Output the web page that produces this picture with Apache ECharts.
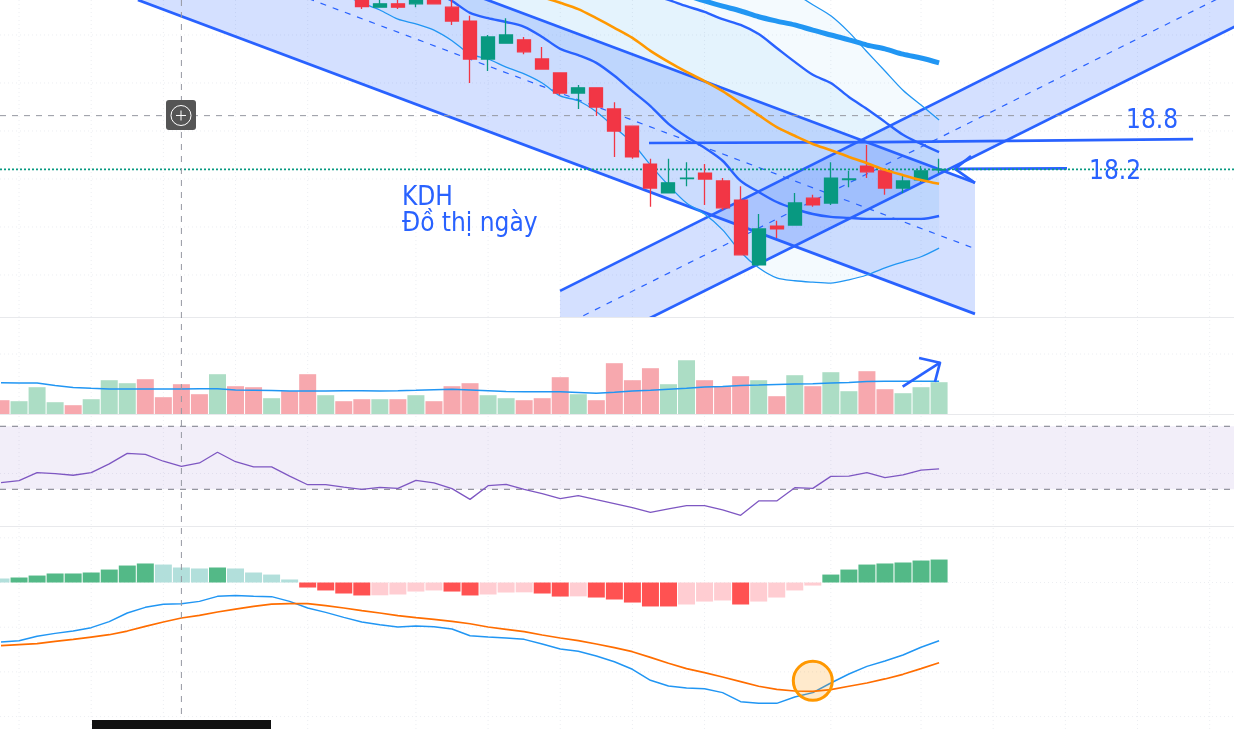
<!DOCTYPE html>
<html><head><meta charset="utf-8">
<style>html,body{margin:0;padding:0;background:#fff}#c{width:1234px;height:729px}</style>
<script src="https://cdn.jsdelivr.net/npm/echarts@6/dist/echarts.min.js"></script>
</head><body><div id="c"></div>
<script>
// ---- candles (bars 20..52; earlier ones are above the visible window)
const candleStart = 20;
const opens  = [21.77,21.58,21.65,21.65,21.75,21.58,21.29,20.50,20.83,20.90,20.50,20.21,19.79,19.90,19.46,19.10,18.31,17.71,18.01,18.12,17.96,17.56,16.21,17.02,17.04,17.60,17.50,17.99,18.27,18.17,17.81,17.98,18.19];
const closes = [21.59,21.65,21.58,21.75,21.65,21.29,20.50,20.96,21.00,20.65,20.29,19.79,19.90,19.50,19.00,18.46,17.81,17.92,18.02,18.00,17.40,16.42,16.96,16.96,17.50,17.46,18.02,18.00,18.15,17.81,17.96,18.17,18.20];
const lows   = [21.54,21.58,21.54,21.58,21.65,21.21,20.00,20.25,20.83,20.60,20.29,19.75,19.46,19.31,18.46,18.42,17.42,17.71,17.85,17.46,17.35,16.42,16.21,16.77,17.04,17.42,17.46,17.83,18.02,17.67,17.71,17.94,18.12];
const highs  = [21.79,21.75,21.75,21.79,21.75,21.75,21.40,21.00,21.35,20.96,20.75,20.21,19.96,19.90,19.60,19.10,18.42,18.42,18.35,18.31,18.02,17.85,17.27,17.13,17.71,17.67,18.35,18.17,18.71,18.19,18.06,18.27,18.42];
// ---- overlays: [first bar, values]
const bbLowerStart = 19;
const bbLower = [21.83,21.67,21.52,21.33,21.23,21.10,20.88,20.60,20.50,20.33,20.19,20.00,19.73,19.63,19.40,19.08,18.75,18.29,17.87,17.50,17.27,16.94,16.48,16.15,15.94,15.88,15.85,15.83,15.90,16.00,16.15,16.27,16.38,16.56];
const bbUpperStart = 44;
const bbUpper = [21.87,21.63,21.40,21.06,20.65,20.25,19.85,19.54,19.23];
const curveAStart = 24;
const curveA = [21.90,21.71,21.46,21.35,21.27,21.17,20.96,20.71,20.58,20.42,20.15,19.83,19.52,19.15,18.88,18.65,18.38,17.96,17.73,17.52,17.38,17.27,17.21,17.19,17.17,17.17,17.17,17.17,17.23];
const curveCStart = 36;
const curveC = [21.85,21.73,21.60,21.48,21.33,21.21,21.02,20.73,20.44,20.17,20.00,19.71,19.46,19.19,18.92,18.73,18.56];
const orangeStart = 30;
const orangeMA = [21.79,21.67,21.54,21.35,21.15,20.94,20.67,20.44,20.23,20.04,19.83,19.58,19.33,19.08,18.90,18.73,18.60,18.46,18.33,18.19,18.08,17.98,17.90];
const thickStart = 38;
const thickMA = [21.83,21.71,21.60,21.50,21.38,21.29,21.21,21.10,21.00,20.90,20.79,20.71,20.60,20.52,20.42];
const offscreenPrice = 22.6;
// ---- volume
const volumes = [.69,.64,1.34,.59,.44,.74,1.69,1.54,1.74,.84,1.49,.99,1.99,1.39,1.34,.79,1.14,1.99,.94,.64,.74,.74,.74,.94,.64,1.39,1.54,.94,.79,.69,.79,1.84,.99,.69,2.54,1.69,2.29,1.49,2.69,1.69,1.39,1.89,1.69,.89,1.94,1.39,2.09,1.14,2.14,1.24,1.04,1.34,1.59];
const volumeUp = [0,1,1,1,0,1,1,1,0,0,0,0,1,0,0,1,0,0,1,0,0,1,0,1,0,0,0,1,1,0,0,0,1,0,0,0,0,1,1,0,0,0,1,0,1,0,1,1,0,0,1,1,1];
const volumeMA = [1.565,1.55,1.55,1.425,1.325,1.285,1.25,1.25,1.25,1.25,1.25,1.26,1.265,1.20,1.185,1.17,1.15,1.155,1.155,1.16,1.16,1.15,1.165,1.185,1.215,1.235,1.20,1.16,1.12,1.115,1.115,1.115,1.075,1.035,1.09,1.15,1.19,1.24,1.29,1.35,1.375,1.43,1.45,1.475,1.50,1.515,1.55,1.575,1.625,1.635,1.635,1.635,1.635];
// ---- RSI
const rsi = [34.2,35.5,40.6,39.9,38.9,40.6,46.1,52.8,52.2,47.8,44.6,46.7,53.5,47.5,44.2,44.2,38.4,32.9,32.9,31.4,30.0,31.2,30.6,35.7,34.0,30.4,23.6,32.3,33.1,30.0,27.2,24.0,26.0,23.4,20.9,18.3,15.4,17.5,19.6,19.6,16.9,13.5,22.6,22.6,31.0,30.6,38.2,38.4,40.6,37.4,39.1,42.2,42.9];
// ---- MACD
const macdHist = [.045,.056,.078,.101,.101,.112,.145,.19,.213,.201,.168,.157,.168,.157,.112,.089,.034,-.056,-.089,-.123,-.145,-.143,-.134,-.101,-.089,-.101,-.145,-.134,-.112,-.110,-.123,-.157,-.155,-.168,-.19,-.224,-.268,-.268,-.246,-.213,-.201,-.246,-.213,-.168,-.089,-.034,.089,.145,.201,.213,.224,.246,.257];
const macdLine = [-.666,-.651,-.602,-.569,-.543,-.505,-.438,-.341,-.278,-.244,-.237,-.211,-.155,-.144,-.155,-.158,-.211,-.285,-.334,-.390,-.442,-.472,-.498,-.487,-.494,-.520,-.595,-.610,-.621,-.636,-.688,-.744,-.770,-.822,-.886,-.971,-1.094,-1.158,-1.180,-1.188,-1.232,-1.333,-1.352,-1.352,-1.281,-1.232,-1.124,-1.024,-.938,-.878,-.811,-.725,-.651];
const signalLine = [-.707,-.695,-.684,-.658,-.636,-.610,-.584,-.543,-.490,-.442,-.397,-.367,-.330,-.297,-.267,-.241,-.237,-.237,-.259,-.285,-.315,-.341,-.371,-.393,-.412,-.434,-.461,-.498,-.524,-.550,-.587,-.621,-.651,-.688,-.729,-.774,-.837,-.904,-.964,-1.009,-1.057,-1.109,-1.161,-1.195,-1.214,-1.217,-1.199,-1.161,-1.124,-1.079,-1.027,-.964,-.897];
const circleMark = [45, -1.10];
// ---- hand drawings, [bar, value]
const downUpper = [[7.59,24.46],[53.99,17.92]];
const downLower = [[7.59,21.73],[53.99,15.19]];
const downMid   = [[7.59,23.09],[53.99,16.55]];
const upUpper = [[30.99,15.67],[72,23.38]];
const upLower = [[30.99,14.17],[72,21.85]];
const upMid   = [[30.99,14.91],[72,22.61]];
const line188 = [[35.92,18.75],[48.7,18.77],[66.08,18.83]];
const arrow182 = [[59.09,18.22],[52.88,18.21]];
const arrow182Head = [[53.77,18.48],[52.88,18.21],[53.99,17.92]];
const volArrow = [[49.98,1.365],[52.05,2.565]];
const volArrowHead = [[50.89,2.80],[52.05,2.565],[51.77,1.60]];
// ---- reference levels and grid
const lastPrice = 18.2, crossPrice = 19.32, crossBar = 10;
const priceGrid = [16,17,18,19,20,21];
const volumeGrid = [3];
const rsiGrid = [40];
const macdGrid = [.5,0,-.5,-1,-1.5];
const barGrid = [1,5,9,13,17,23,27,31,35,39,46,51,55,59,63,67];
const texts = [['KDH',402,198,26],['Đồ thị ngày',402,224,26],['18.8',1126,121,26],['18.2',1089,172,26]];

const xMin = -0.0554, xMax = 68.348;
const BLUE = '#2962ff', LBLUE = '#2196f3';
const series = [];

function poly(grid, pts, o) {
  series.push({
    type:'custom', xAxisIndex:grid, yAxisIndex:grid, clip:true, silent:true, z:o.z===undefined?3:o.z,
    animation:false, data:[pts[0]],
    renderItem:(p, api)=>{
      const points = pts.map(q=>api.coord(q));
      return {type:o.fill?'polygon':'polyline', shape:{points},
        style:{fill:o.fill||'none', stroke:o.stroke||'none', lineWidth:o.w||1, lineDash:o.dash||null, lineJoin:'round', lineCap:o.cap||'butt'}};
    }
  });
}
function curve(grid, start, vals, color, w, z) {
  series.push({type:'line', xAxisIndex:grid, yAxisIndex:grid, data:vals.map((v,i)=>[start+i,v]),
    symbol:'none', silent:true, animation:false, z:z||4, smooth:grid===0?0.3:false, lineStyle:{color, width:w}});
}
const grey = {stroke:'#eceef2', w:1, dash:[1,3], z:0};
function hgrid(grid, vals){ vals.forEach(v=>poly(grid,[[xMin,v],[xMax,v]],grey)); }

// overlay pane: vertical grid + vertical crosshair
barGrid.forEach(b=>poly(4,[[b,0],[b,729]],grey));
poly(4,[[crossBar,0],[crossBar,716]],{stroke:'#9598a1',w:1,dash:[6,6],z:9});
hgrid(0,priceGrid); hgrid(1,volumeGrid); hgrid(2,rsiGrid); hgrid(3,macdGrid);

// indicator fills
const at = (s,a)=>a.map((v,i)=>[s+i,v]);
const upperEdge = [[bbLowerStart,offscreenPrice],[bbUpperStart-1,offscreenPrice]].concat(at(bbUpperStart,bbUpper));
poly(0, upperEdge.concat(at(bbLowerStart,bbLower).reverse()), {fill:'rgba(33,150,243,0.05)',z:1});
const cEdge = [[curveAStart,offscreenPrice],[curveCStart-1,offscreenPrice]].concat(at(curveCStart,curveC));
poly(0, cEdge.concat(at(curveAStart,curveA).reverse()), {fill:'rgba(33,150,243,0.07)',z:1});

// channels
const chFill='rgba(41,98,255,0.2)';
poly(0,[downUpper[0],downUpper[1],downLower[1],downLower[0]],{fill:chFill,z:2});
poly(0,[upUpper[0],upUpper[1],upLower[1],upLower[0]],{fill:chFill,z:2});
[downUpper,downLower,upUpper,upLower].forEach(l=>poly(0,l,{stroke:BLUE,w:2.7,z:3}));
[downMid,upMid].forEach(l=>poly(0,l,{stroke:BLUE,w:1.2,dash:[6,7],z:3}));

// indicator lines
curve(0,bbLowerStart,bbLower,LBLUE,1.3,3);
curve(0,bbUpperStart,bbUpper,LBLUE,1.3,3);
curve(0,curveAStart,curveA,BLUE,2.4,4);
curve(0,curveCStart,curveC,BLUE,2.4,4);
curve(0,thickStart,thickMA,LBLUE,5,4);
curve(0,orangeStart,orangeMA,'#ff9800',2.6,7);

// hand lines
poly(0,line188,{stroke:BLUE,w:2.7,z:4});
poly(0,arrow182,{stroke:BLUE,w:2.7,z:4});
poly(0,arrow182Head,{stroke:BLUE,w:2.7,z:4});

// last price + crosshair
poly(0,[[xMin,lastPrice],[xMax,lastPrice]],{stroke:'#089981',w:1.6,dash:[2,2],z:5});
poly(0,[[xMin,crossPrice],[xMax,crossPrice]],{stroke:'#9598a1',w:1,dash:[6,6],z:3});

// candles
series.push({type:'candlestick', xAxisIndex:0, yAxisIndex:0, z:6, barWidth:13.5, silent:true, animation:false,
  encode:{x:0,y:[1,2,3,4]},
  itemStyle:{color:'#089981',color0:'#f23645',borderColor:'#089981',borderColor0:'#f23645',borderWidth:1.3},
  data:opens.map((o,i)=>[candleStart+i,o,closes[i],lows[i],highs[i]])});

// volume
series.push({type:'bar', xAxisIndex:1, yAxisIndex:1, barWidth:17, silent:true, animation:false, z:2,
  data:volumes.map((v,i)=>({value:[i,v],itemStyle:{color:volumeUp[i]?'#acddc5':'#f7a8ae'}}))});
curve(1,0,volumeMA,LBLUE,1.5,3);
poly(1,volArrow,{stroke:BLUE,w:2.7,z:4});
poly(1,volArrowHead,{stroke:BLUE,w:2.7,z:4});

// RSI
poly(2,[[xMin,70],[xMax,70],[xMax,30],[xMin,30]],{fill:'rgba(126,87,194,0.1)',z:1});
[70,30].forEach(v=>poly(2,[[xMin,v],[xMax,v]],{stroke:'#787b86',w:1,dash:[6,6],z:2}));
curve(2,0,rsi,'#7e57c2',1.3,4);

// MACD
series.push({type:'bar', xAxisIndex:3, yAxisIndex:3, barWidth:17, silent:true, animation:false, z:2,
  data:macdHist.map((v,i)=>{
    const p=i?macdHist[i-1]:Infinity;
    const strong = v>=0 ? v>=p : v<=p;
    return {value:[i,v],itemStyle:{color: v>=0 ? (strong?'#53b987':'#b2dfdb') : (strong?'#ff5252':'#ffcdd2')}};
  })});
curve(3,0,macdLine,LBLUE,1.5,4);
curve(3,0,signalLine,'#ff6d00',1.7,4);
series.push({type:'scatter', xAxisIndex:3, yAxisIndex:3, silent:true, animation:false, z:5, symbolSize:39,
  data:[circleMark], itemStyle:{color:'rgba(255,152,0,0.2)',borderColor:'#ff9800',borderWidth:3,opacity:1}});

const panes = [
  {top:0,height:317,min:15.125,max:21.729,inverse:false},
  {top:317,height:97,min:0,max:4.85,inverse:false},
  {top:414.3,height:112,min:6.5,max:77.6,inverse:false},
  {top:526.3,height:202.7,min:-1.639,max:.629,inverse:false},
  {top:0,height:729,min:0,max:729,inverse:true}
];
const graphic = [
  {type:'rect',z:1,silent:true,shape:{x:0,y:317,width:1234,height:1},style:{fill:'#e8e9ec'}},
  {type:'rect',z:1,silent:true,shape:{x:0,y:414,width:1234,height:1},style:{fill:'#e8e9ec'}},
  {type:'rect',z:1,silent:true,shape:{x:0,y:526,width:1234,height:1},style:{fill:'#e8e9ec'}},
  {type:'rect',z:100,silent:true,shape:{x:166,y:100,width:30,height:30,r:3},style:{fill:'#555555'}},
  {type:'circle',z:101,silent:true,shape:{cx:181,cy:115.5,r:10},style:{fill:'none',stroke:'#fff',lineWidth:1}},
  {type:'line',z:101,silent:true,shape:{x1:176,y1:115.5,x2:186,y2:115.5},style:{stroke:'#fff',lineWidth:1}},
  {type:'line',z:101,silent:true,shape:{x1:181,y1:110.5,x2:181,y2:120.5},style:{stroke:'#fff',lineWidth:1}},
  {type:'rect',z:100,silent:true,shape:{x:92,y:720,width:179,height:9},style:{fill:'#111111'}}
].concat(texts.map(t=>({type:'text',z:50,silent:true,x:t[1],y:t[2],
  style:{text:t[0],fill:BLUE,font:t[3]+'px "DejaVu Sans Condensed", "DejaVu Sans", sans-serif',textVerticalAlign:'middle',textAlign:'left'}})));

const chart = echarts.init(document.getElementById('c'),null,{renderer:'canvas'});
chart.setOption({
  animation:false, backgroundColor:'#ffffff',
  grid: panes.map(p=>({left:0,width:1234,top:p.top,height:p.height,containLabel:false})),
  xAxis: panes.map((p,i)=>({type:'value',gridIndex:i,min:xMin,max:xMax,show:false,splitLine:{show:false}})),
  yAxis: panes.map((p,i)=>({type:'value',gridIndex:i,min:p.min,max:p.max,inverse:p.inverse,show:false,scale:true,splitLine:{show:false}})),
  graphic, series
});
</script></body></html>
